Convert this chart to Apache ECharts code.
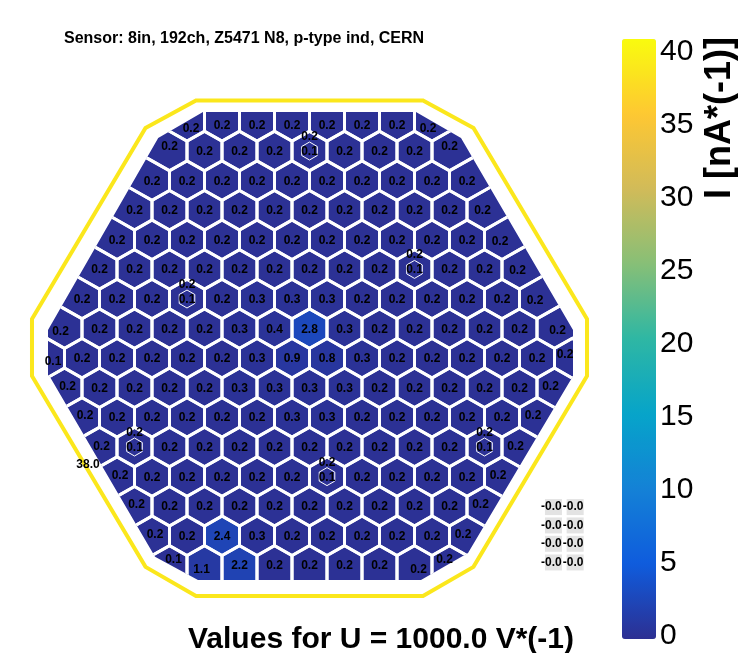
<!DOCTYPE html>
<html>
<head>
<meta charset="utf-8">
<style>html,body{margin:0;padding:0;background:#fff}#main{width:746px;height:653px}</style>
<script src="https://cdn.jsdelivr.net/npm/echarts@6/dist/echarts.min.js"></script>
</head>
<body>
<div id="main"></div>
<script>
// measured current per pad, one list per hexagon row, top to bottom
var row0 = [0.2,0.2,0.2,0.2,0.2,0.2,0.2,0.2];
var row1 = [0.2,0.2,0.2,0.2,0.2,0.2,0.2,0.2,0.2];
var row2 = [0.2,0.2,0.2,0.2,0.2,0.2,0.2,0.2,0.2,0.2];
var row3 = [0.2,0.2,0.2,0.2,0.2,0.2,0.2,0.2,0.2,0.2,0.2];
var row4 = [0.2,0.2,0.2,0.2,0.2,0.2,0.2,0.2,0.2,0.2,0.2,0.2];
var row5 = [0.2,0.2,0.2,0.2,0.2,0.2,0.2,0.2,0.2,0.2,0.2,0.2,0.2];
var row6 = [0.2,0.2,0.2,0.2,0.2,0.3,0.3,0.3,0.2,0.2,0.2,0.2,0.2,0.2];
var row7 = [0.2,0.2,0.2,0.2,0.2,0.3,0.4,2.8,0.3,0.2,0.2,0.2,0.2,0.2,0.2];
var row8 = [0.1,0.2,0.2,0.2,0.2,0.2,0.3,0.9,0.8,0.3,0.2,0.2,0.2,0.2,0.2,0.2];
var row9 = [0.2,0.2,0.2,0.2,0.2,0.3,0.3,0.3,0.3,0.2,0.2,0.2,0.2,0.2,0.2];
var row10 = [0.2,0.2,0.2,0.2,0.2,0.2,0.3,0.3,0.2,0.2,0.2,0.2,0.2,0.2];
var row11 = [0.2,0.2,0.2,0.2,0.2,0.2,0.2,0.2,0.2,0.2,0.2,0.2,0.2];
var row12 = [0.2,0.2,0.2,0.2,0.2,0.2,0.2,0.2,0.2,0.2,0.2,0.2];
var row13 = [0.2,0.2,0.2,0.2,0.2,0.2,0.2,0.2,0.2,0.2,0.2];
var row14 = [0.2,0.2,2.4,0.3,0.2,0.2,0.2,0.2,0.2,0.2];
var row15 = [0.1,1.1,2.2,0.2,0.2,0.2,0.2,0.2,0.2];
var padRows = [row0,row1,row2,row3,row4,row5,row6,row7,row8,row9,row10,row11,row12,row13,row14,row15];

// calibration pads: row, index in row, inner value
var calRow = [1,5,6,11,11,12];
var calIdx = [4,9,3,1,11,6];
var calValue = [0.1,0.1,0.1,0.1,0.1,0.1];

var guardValue = 38.0;
var extraLabels = [['-0.0','-0.0'],['-0.0','-0.0'],['-0.0','-0.0'],['-0.0','-0.0']];
var colorTicks = [0,5,10,15,20,25,30,35,40];

var bird = ['#2d2f92','#0f5cdd','#1481d6','#06a4ca','#2eb7a4','#87bf77','#d1bb59','#fec832','#f9fb0e'];

// outlines, in axis units (x: pad pitch from centre, y: row number)
var guardX = [-3.243,3.243,4.686,7.929,7.929,4.686,3.243,-3.243,-4.686,-7.929,-7.929,-4.686];
var guardY = [-0.706,-0.706,0.223,6.676,8.601,15.05,16.03,16.03,15.05,8.601,6.676,0.223];
var waferX = [-3.043,3.043,4.329,7.529,7.529,4.529,3.186,-3.186,-4.414,-7.414,-7.471,-7.471,-7.357,-4.323];
var waferY = [-0.318,-0.318,0.561,7.047,8.601,14.583,15.493,15.493,14.71,8.635,8.565,7.047,6.81,0.561];

// labels of cut edge pads do not sit in the pad centre, pixels
var nudge = {
  '0,0':[4,7],'0,7':[-4,7],'1,0':[0,-5],'1,8':[0,-5],'3,10':[-2,0],'4,11':[-2,1],'5,12':[-2,1],'6,13':[-2,1],
  '7,0':[-4,2],'7,14':[3,1],'8,0':[6,3],'8,15':[-7,-4],'9,0':[3,-2],'9,14':[-4,-2],'10,0':[3,-2],'10,13':[-4,-2],
  '11,0':[2,-1],'11,12':[-4,-1],'12,0':[3,-2],'12,11':[-4,-2],'13,0':[2,-2],'13,10':[-4,-2],'14,0':[3,-2],'14,9':[-4,-2],
  '15,0':[4,-6],'15,1':[-3,4],'15,7':[4,4],'15,8':[-5,-6]
};

var padData = [];
padRows.forEach(function(vals, r){
  vals.forEach(function(v, i){
    padData.push([i - (vals.length - 1) / 2, r, v, i]);
  });
});

function calIndex(r, i){
  for (var k = 0; k < calRow.length; k++) {
    if (calRow[k] === r && calIdx[k] === i) return k;
  }
  return -1;
}

var myChart = echarts.init(document.getElementById('main'));
var textFont = '"Liberation Sans", Arial, sans-serif';

function waferPoints(api){
  return waferX.map(function(x, k){ return api.coord([x, waferY[k]]); });
}

// left side of a pad, bottom to top. Pads on the rim grow out past the wafer edge.
function padSide(r, onRim){
  if (!onRim || r === 8) {
    return [[-0.5, r === 15 ? 1 : 1/3], [-0.5, r === 0 ? -1 : -1/3]];
  }
  if (r === 0) return [[-0.5,1/3],[-1.5,-1/3],[-1.5,-1]];
  if (r === 15) return [[-1.5,1],[-1.5,1/3],[-0.5,-1/3]];
  if (r < 8) return [[-0.5,1/3],[-1.5,-1/3],[-1.5,-4/3],[-1,-4/3]];
  return [[-1,4/3],[-1.5,4/3],[-1.5,1/3],[-0.5,-1/3]];
}

function padShape(r, i){
  var last = padRows[r].length - 1;
  var left = padSide(r, i === 0);
  var right = padSide(r, i === last).map(function(p){ return [-p[0], p[1]]; }).reverse();
  var pts = left.slice();
  if (r !== 0) pts.push([0,-2/3]);
  pts = pts.concat(right);
  if (r !== 15) pts.push([0,2/3]);
  return pts;
}

function padPolygon(api, style){
  var x = api.value(0), r = api.value(1);
  var pts = padShape(r, api.value(3)).map(function(d){
    return api.coord([x + d[0], r + d[1]]);
  });
  return {
    type: 'polygon',
    shape: {points: pts},
    style: style,
    clipPath: {type: 'polygon', shape: {points: waferPoints(api)}}
  };
}

function renderPad(params, api){
  return padPolygon(api, {fill: api.visual('color')});
}

function renderMesh(params, api){
  return padPolygon(api, {fill: 'none', stroke: '#fff', lineWidth: 3});
}

function padText(text, x, y){
  return {
    type: 'text',
    style: {text: text, x: x, y: y, fill: '#000', align: 'center', verticalAlign: 'middle',
      font: 'bold 12px ' + textFont}
  };
}

function renderPadLabel(params, api){
  var r = api.value(1), i = api.value(3);
  var c = api.coord([api.value(0), r]);
  var n = nudge[r + ',' + i] || [0, r === 0 ? 4 : 0];
  var k = calIndex(r, i);
  var dy = 0.6;
  if (k < 0) {
    return padText(api.value(2).toFixed(1), c[0] + n[0], c[1] + n[1] + dy);
  }
  var small = [];
  for (var a = 0; a < 6; a++) {
    var t = Math.PI / 3 * a + Math.PI / 6;
    small.push([c[0] + 9 * Math.cos(t), c[1] + 9 * Math.sin(t)]);
  }
  return {
    type: 'group',
    children: [
      {type: 'polygon', shape: {points: small}, style: {fill: 'none', stroke: '#fff', lineWidth: 1}},
      padText(api.value(2).toFixed(1), c[0], c[1] - 15 + dy),
      padText(calValue[k].toFixed(1), c[0], c[1] + dy)
    ]
  };
}

function renderGuard(params, api){
  var pts = guardX.map(function(x, k){ return api.coord([x, guardY[k]]); });
  return {
    type: 'group',
    children: [
      {type: 'polygon', shape: {points: pts}, style: {fill: 'none', stroke: api.visual('color'), lineWidth: 4}},
      padText(api.value(2).toFixed(1), api.coord([-6.329, 0])[0], api.coord([0, 11.608])[1])
    ]
  };
}

function renderExtra(params, api){
  var x = api.value(0), y = api.value(1);
  var a = api.coord([x - 0.243, y - 0.27]);
  var b = api.coord([x + 0.243, y + 0.27]);
  var c = api.coord([x - 0.057, y]);
  return {
    type: 'group',
    children: [
      {type: 'rect', shape: {x: a[0], y: a[1], width: b[0] - a[0], height: b[1] - a[1]}, style: {fill: '#e3e3e3'}},
      padText(extraLabels[api.value(2)][api.value(3)], c[0], c[1])
    ]
  };
}

var extraData = [];
[13.03,13.65,14.27,14.9].forEach(function(y, r){
  [6.97,7.59].forEach(function(x, i){
    extraData.push([x, y, r, i]);
  });
});

option = {
  animation: false,
  backgroundColor: '#fff',
  title: [
    {text: 'Sensor: 8in, 192ch, Z5471 N8, p-type ind, CERN', left: 64, top: 31, padding: 0,
      textStyle: {fontFamily: textFont, fontWeight: 'bold', fontSize: 16, color: '#000'}},
    {text: 'Values for U = 1000.0 V*(-1)', left: 188, top: 625, padding: 0,
      textStyle: {fontFamily: textFont, fontWeight: 'bold', fontSize: 30, color: '#000'}}
  ],
  grid: [
    {left: 47, width: 525, top: 121.4, height: 444},
    {left: 622, width: 34, top: 52, height: 584}
  ],
  xAxis: [
    {type: 'value', min: -7.5, max: 7.5, show: false},
    {type: 'value', gridIndex: 1, min: 0, max: 1, show: false}
  ],
  yAxis: [
    {type: 'value', min: 0, max: 15, inverse: true, show: false},
    {type: 'value', gridIndex: 1, position: 'right', min: colorTicks[0], max: colorTicks[colorTicks.length - 1], interval: 5,
      axisLine: {show: false}, axisTick: {show: false}, splitLine: {show: false},
      axisLabel: {margin: 4, fontSize: 30, color: '#000', fontFamily: textFont}}
  ],
  visualMap: {
    type: 'continuous',
    seriesIndex: [0, 3],
    dimension: 2,
    min: 0,
    max: 40,
    left: 622,
    top: 39,
    padding: 0,
    itemWidth: 34,
    itemHeight: 600,
    calculable: false,
    showLabel: false,
    text: null,
    inRange: {color: bird}
  },
  graphic: [
    {type: 'text', x: 720, y: 118, rotation: Math.PI / 2, silent: true,
      style: {text: 'I [nA*(-1)]', align: 'center', verticalAlign: 'middle', fill: '#000',
        font: 'bold 36px ' + textFont}}
  ],
  series: [
    {type: 'custom', silent: true, renderItem: renderPad, data: padData, z: 2},
    {type: 'custom', silent: true, renderItem: renderMesh, data: padData, z: 3},
    {type: 'custom', silent: true, renderItem: renderPadLabel, data: padData, z: 5},
    {type: 'custom', silent: true, renderItem: renderGuard, data: [[0, 0, guardValue]], z: 4},
    {type: 'custom', silent: true, renderItem: renderExtra, data: extraData, z: 4}
  ]
};

myChart.setOption(option);
</script>
</body>
</html>
